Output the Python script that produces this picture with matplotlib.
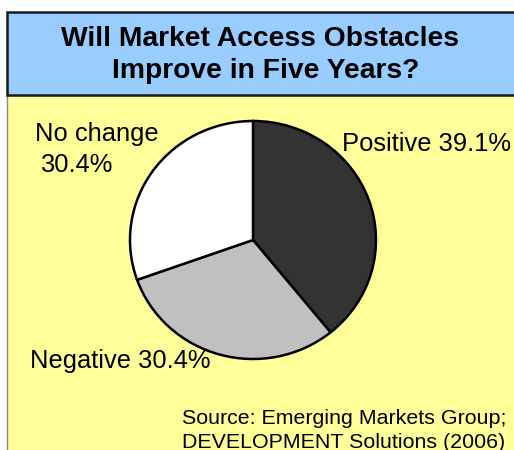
import matplotlib.pyplot as plt
from matplotlib.patches import Rectangle

plt.rcParams['font.family'] = ['Liberation Sans', 'DejaVu Sans']

# survey answers
categories = ["Positive", "Negative", "No change"]
shares = [39.1, 30.4, 30.4]
slice_colors = ["#333333", "#C0C0C0", "#FFFFFF"]

title_lines = ["Will Market Access Obstacles", "Improve in Five Years?"]
source_lines = ["Source: Emerging Markets Group;", "DEVELOPMENT Solutions (2006)"]

W, H = 514, 450
fig = plt.figure(figsize=(W / 100, H / 100), dpi=100)
fig.patch.set_facecolor("white")

# background layer in pixel coordinates (y grows downward)
bg = fig.add_axes([0, 0, 1, 1])
bg.set_xlim(0, W)
bg.set_ylim(H, 0)
bg.axis("off")

bg.add_patch(Rectangle((7, 95), 540, 400, facecolor="#FFFF99",
                       edgecolor="#888888", lw=1.0))
bg.add_patch(Rectangle((7, 11.5), 540, 83, facecolor="#99CCFF",
                       edgecolor="#1a1a1a", lw=1.8))

bg.text(260, 46.5, title_lines[0], ha="center", va="baseline",
        fontsize=20.3, fontweight="bold")
bg.text(266, 78, title_lines[1], ha="center", va="baseline",
        fontsize=20.3, fontweight="bold")

# pie, slightly wider than tall
cx, cy, rx, ry = 253, 240, 123, 119
pie_ax = fig.add_axes([(cx - rx) / W, (H - cy - ry) / H, 2 * rx / W, 2 * ry / H])
pie_ax.pie(shares, colors=slice_colors, startangle=90, counterclock=False,
           wedgeprops=dict(edgecolor="black", linewidth=1.8))
pie_ax.set_aspect("auto")
pie_ax.set_xlim(-1.0, 1.0)
pie_ax.set_ylim(-1.0, 1.0)
pie_ax.axis("off")
for p in pie_ax.patches:
    p.set_clip_on(False)

labels = [f"{c} {s}%" for c, s in zip(categories, shares)]
bg.text(342.5, 151, labels[0], ha="left", va="baseline", fontsize=18.4)
bg.text(30.5, 368, labels[1], ha="left", va="baseline", fontsize=18.4)
bg.text(35, 140.5, categories[2], ha="left", va="baseline", fontsize=18.4)
bg.text(40, 172, f"{shares[2]}%", ha="left", va="baseline", fontsize=18.4)

bg.text(181.5, 424, source_lines[0], ha="left", va="baseline", fontsize=15.4)
bg.text(181.5, 448, source_lines[1], ha="left", va="baseline", fontsize=15.4)

fig.savefig("out.png", dpi=100)
